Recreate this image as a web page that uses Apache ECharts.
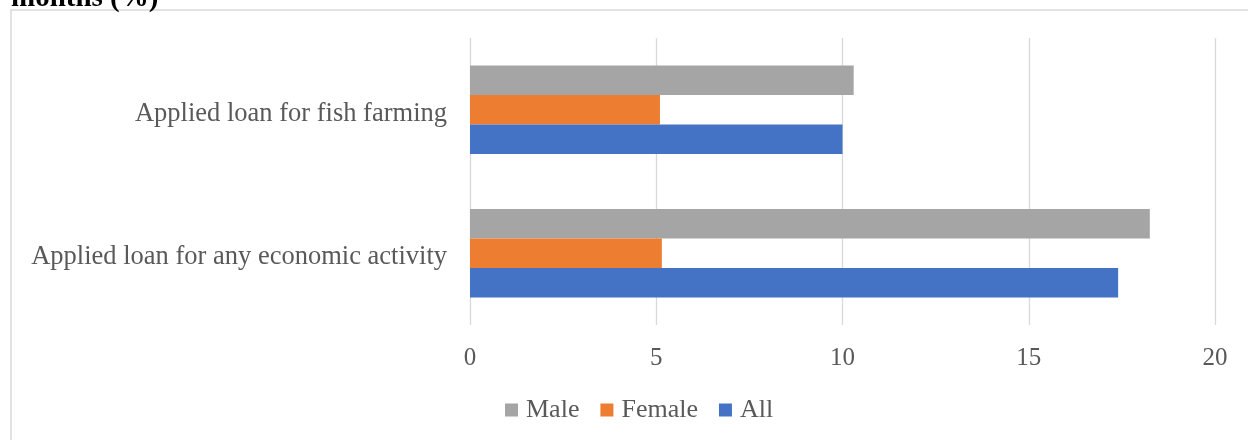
<!DOCTYPE html>
<html>
<head>
<meta charset="utf-8">
<script src="https://cdn.jsdelivr.net/npm/echarts@6/dist/echarts.min.js"></script>
<style>
  html, body { margin: 0; padding: 0; background: #fff; }
  #chart { width: 1248px; height: 440px; }
</style>
</head>
<body>
<div id="chart"></div>
<script>
// Categories listed bottom-to-top on the vertical axis
var categories = ['Applied loan for any economic activity', 'Applied loan for fish farming'];
// Share of respondents (%)
var maleValues = [18.25, 10.3];
var femaleValues = [5.15, 5.1];
var allValues = [17.4, 10.0];
var xTicks = [0, 5, 10, 15, 20];

var FONT = '"Liberation Serif", "Times New Roman", serif';
var TEXT = '#595959';

var chart = echarts.init(document.getElementById('chart'), null, { renderer: 'canvas' });

var barCommon = { type: 'bar', barGap: '0%', barCategoryGap: '38.5%' };

chart.setOption({
  animation: false,
  backgroundColor: '#fff',
  graphic: [
    {
      type: 'rect',
      shape: { x: 11, y: 10, width: 1260, height: 460 },
      style: { fill: 'none', stroke: '#d9d9d9', lineWidth: 1.5 },
      z: -1
    },
    {
      type: 'text',
      left: 11,
      top: -16,
      style: {
        text: 'months (%)',
        font: 'bold 29px ' + FONT,
        fill: '#000'
      }
    }
  ],
  legend: {
    data: ['Male', 'Female', 'All'],
    left: 500,
    top: 392,
    itemWidth: 13,
    itemHeight: 13,
    itemGap: 21,
    icon: 'rect',
    textStyle: { fontFamily: FONT, fontSize: 26, color: TEXT, padding: [0, 0, 0, 3] }
  },
  grid: { left: 470, right: 33, top: 38, bottom: 115, containLabel: false },
  xAxis: {
    type: 'value',
    min: xTicks[0],
    max: xTicks[xTicks.length - 1],
    interval: xTicks[1] - xTicks[0],
    axisLine: { show: false },
    axisTick: { show: false },
    splitLine: { lineStyle: { color: '#d9d9d9', width: 1.3 } },
    axisLabel: { fontFamily: FONT, fontSize: 25, color: TEXT, margin: 21 }
  },
  yAxis: {
    type: 'category',
    data: categories,
    axisLine: { show: false },
    axisTick: { show: false },
    axisLabel: {
      fontFamily: FONT, fontSize: 26.5, color: TEXT, margin: 23,
      verticalAlign: 'top', lineHeight: 8
    }
  },
  series: [
    Object.assign({ name: 'Male', data: maleValues, itemStyle: { color: '#A5A5A5' } }, barCommon),
    Object.assign({ name: 'Female', data: femaleValues, itemStyle: { color: '#ED7D31' } }, barCommon),
    Object.assign({ name: 'All', data: allValues, itemStyle: { color: '#4472C4' } }, barCommon)
  ]
});
</script>
</body>
</html>
